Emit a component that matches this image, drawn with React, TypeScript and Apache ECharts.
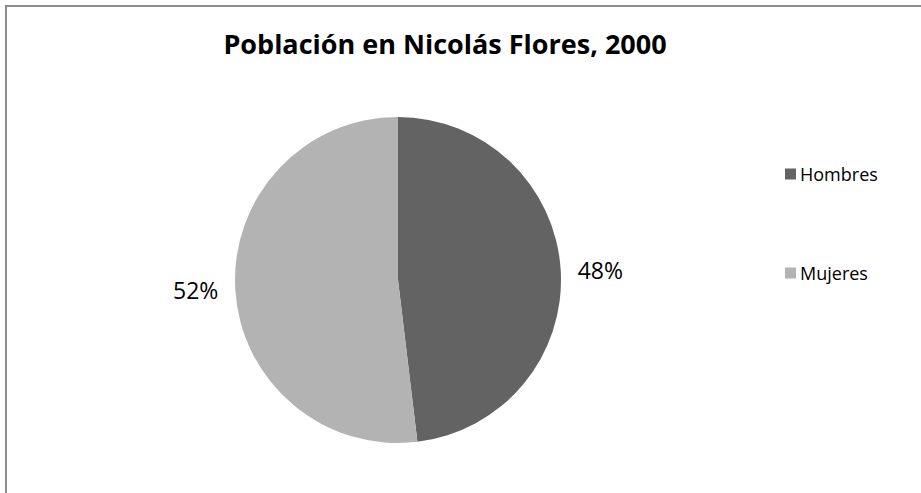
import React, { useEffect, useRef } from "react";
import * as echarts from "echarts";

const titleText = "Población en Nicolás Flores, 2000";
const categories = ["Hombres", "Mujeres"];
const values = [48.1, 51.9];
const colors = ["#636363", "#b3b3b3"];

export default function App() {
  const ref = useRef<HTMLDivElement>(null);
  useEffect(() => {
    if (!ref.current) return;
    const chart = echarts.init(ref.current, null, { renderer: "svg" });
    chart.setOption({
      animation: false,
      backgroundColor: "#ffffff",
      title: {
        text: titleText,
        left: 440,
        top: 25,
        textAlign: "center",
        textStyle: {
          fontFamily: "Open Sans",
          fontWeight: "bold",
          fontSize: 27,
          color: "#000000",
        },
      },
      legend: {
        orient: "vertical",
        left: 780,
        top: 158,
        itemWidth: 11,
        itemHeight: 11,
        itemGap: 77,
        icon: "rect",
        data: categories,
        textStyle: {
          fontFamily: "Open Sans",
          fontSize: 18,
          color: "#000000",
          lineHeight: 22,
          padding: [0, 0, 0, -1],
        },
      },
      graphic: [
        {
          type: "rect",
          shape: { x: 6, y: 6, width: 1000, height: 1000 },
          style: { fill: "none", stroke: "#8c8c8c", lineWidth: 2 },
          silent: true,
        },
      ],
      series: [
        {
          type: "pie",
          center: [398, 280],
          radius: 163,
          startAngle: 90,
          clockwise: true,
          data: categories.map((c, i) => ({
            name: c,
            value: values[i],
            itemStyle: { color: colors[i] },
          })),
          label: {
            show: true,
            position: "outside",
            formatter: (p: any) => Math.round(p.percent) + "%",
            fontFamily: "Open Sans",
            fontSize: 23,
            color: "#000000",
          },
          labelLine: { show: false, length: 12, length2: 0 },
          emphasis: { disabled: true },
        },
      ],
    });
    return () => chart.dispose();
  }, []);
  return (
    <div
      ref={ref}
      style={{ position: "absolute", left: 0, top: 0, width: 921, height: 493 }}
    />
  );
}
